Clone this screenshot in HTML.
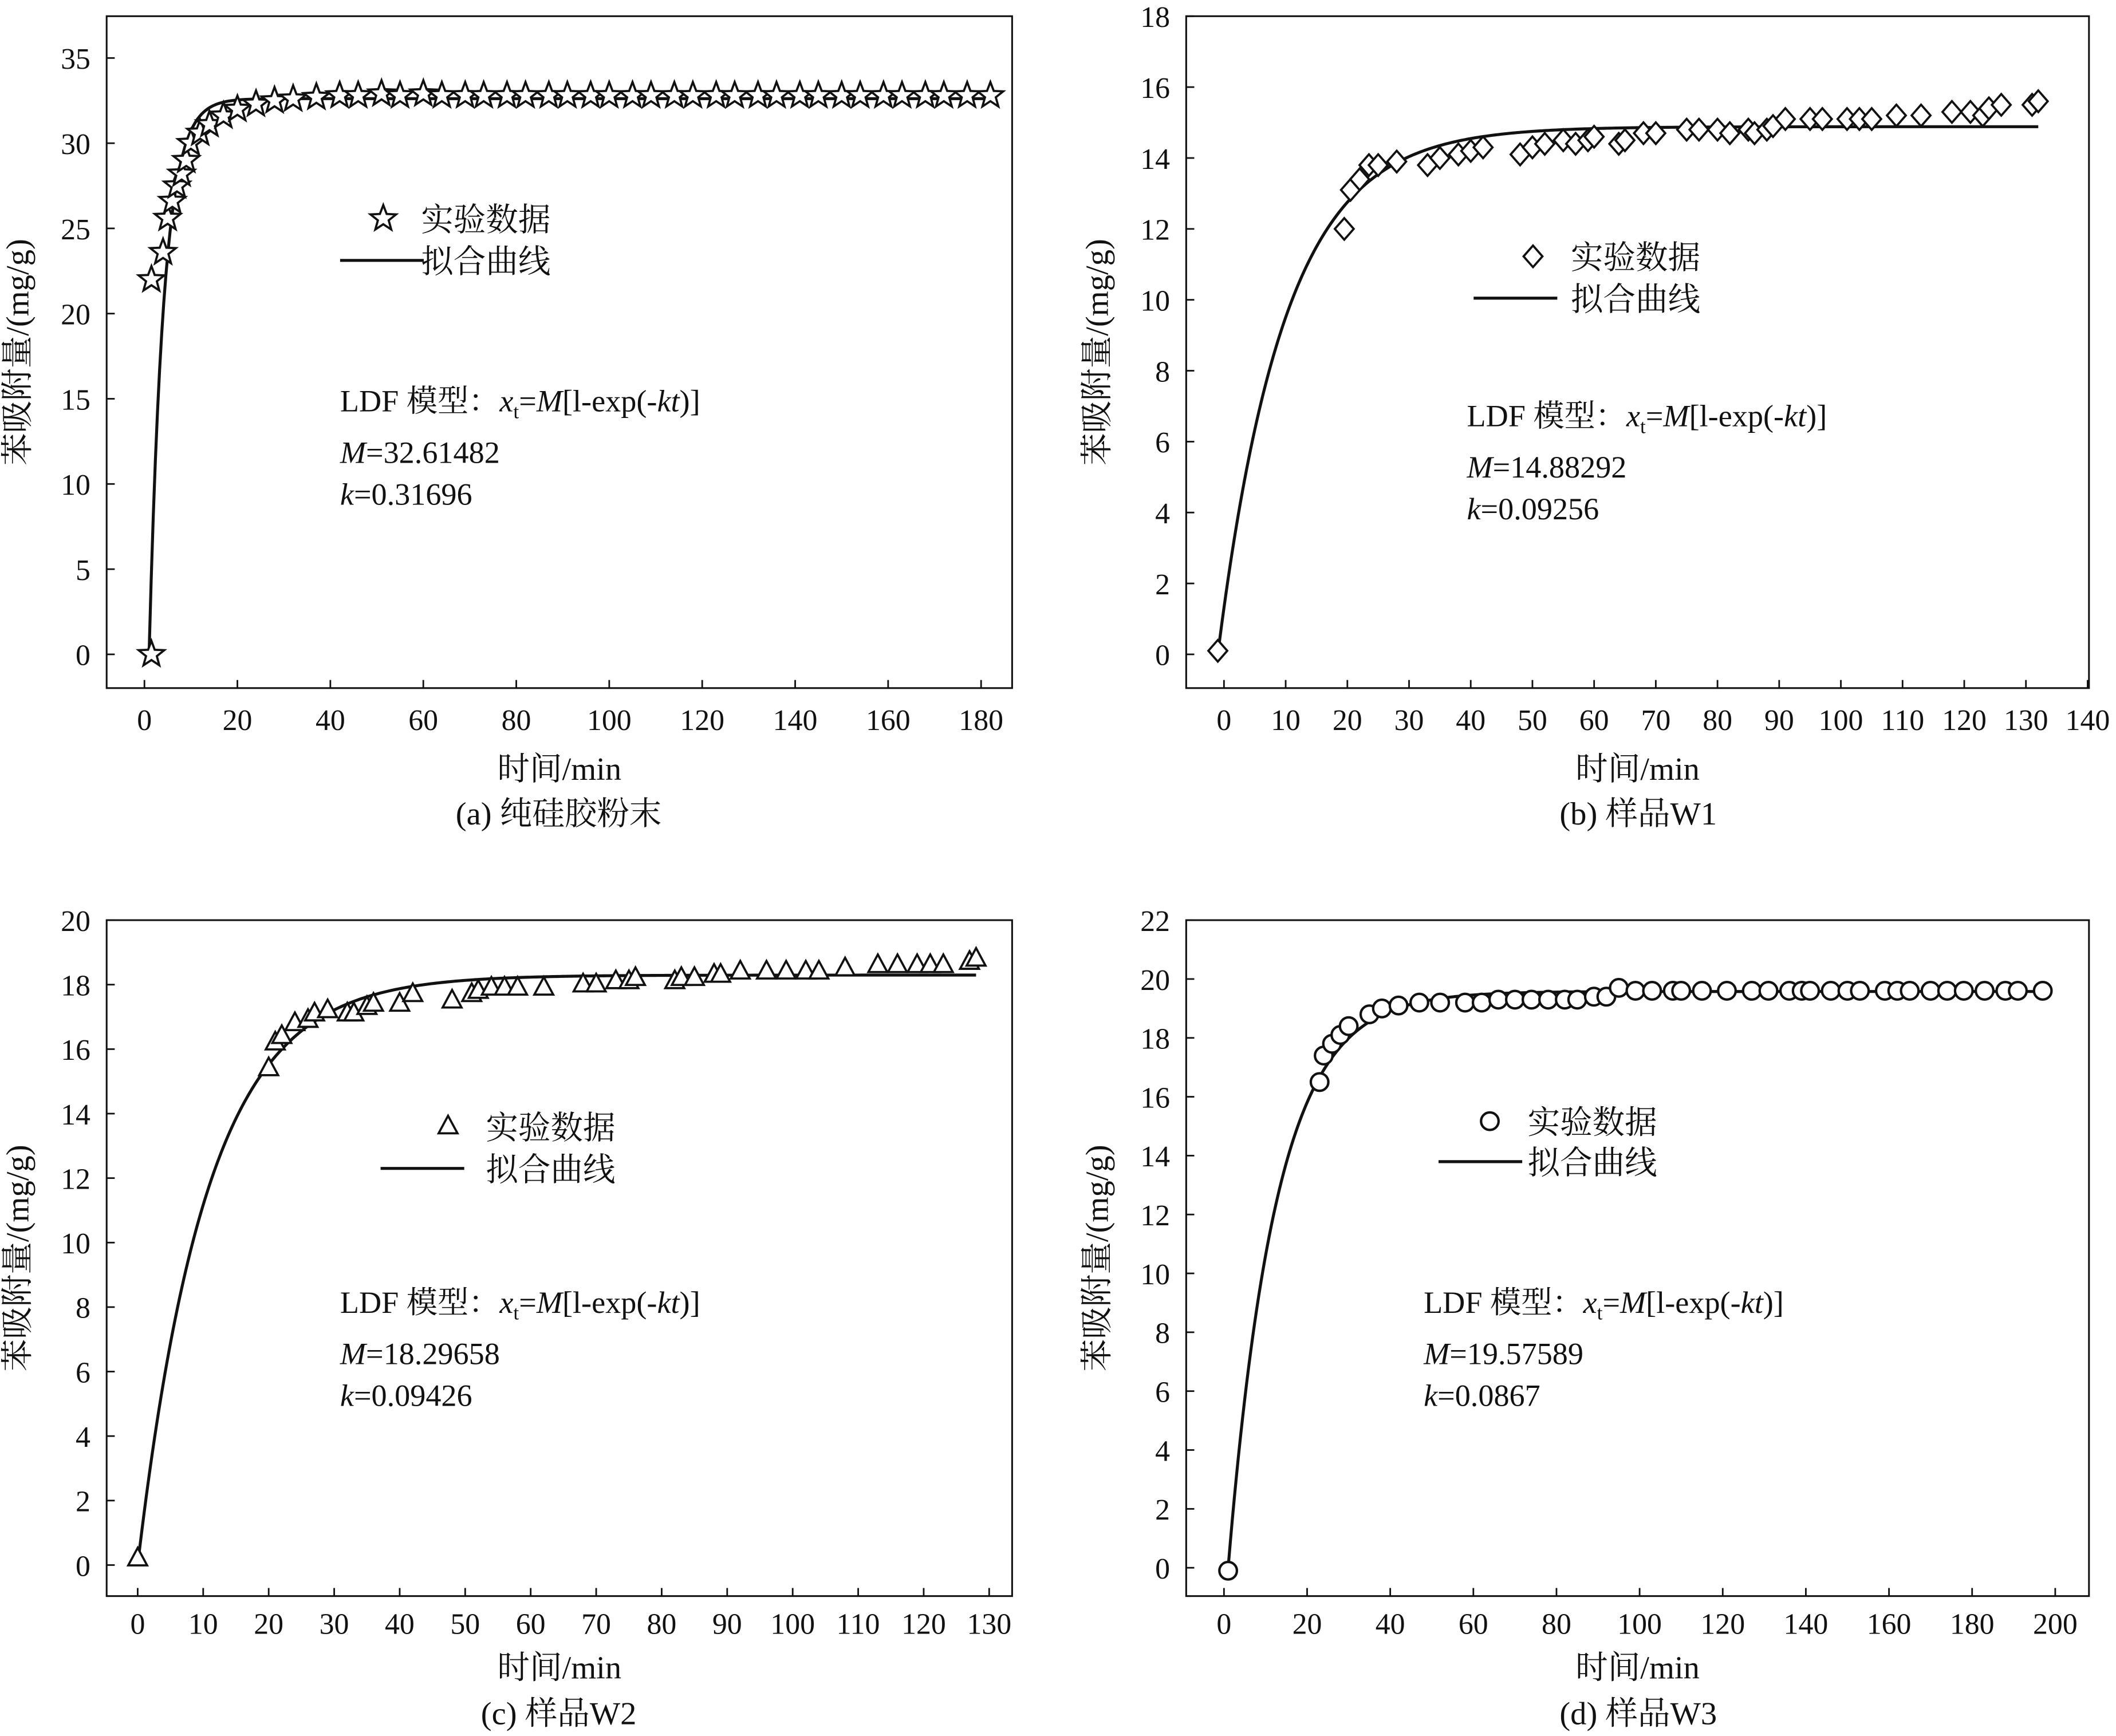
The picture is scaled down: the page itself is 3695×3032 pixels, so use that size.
<!DOCTYPE html>
<html><head><meta charset="utf-8"><style>
html,body{margin:0;padding:0;background:#fff}
svg{display:block}
text{font-family:"Liberation Serif","Noto Serif CJK SC","Noto Sans CJK SC",serif;fill:#111}
</style></head><body>
<svg id="fig" xmlns="http://www.w3.org/2000/svg" width="3695" height="3032" viewBox="0 0 1568 1286.7"></svg>
<script>
// Panel (a) data
const aT=[1.5,1.5,4,5,6,7,8,9,10,12,14,17,20,24,28,32,37,42,46,51,55,60,64,69,73,78,82,87,91,96,100,105,109,114,118,123,127,132,136,141,145,150,154,159,163,168,172,177,182];
const aY=[0,22,23.6,25.6,26.6,27.5,28.2,29,30,30.6,31.1,31.6,32,32.3,32.5,32.6,32.7,32.8,32.8,32.9,32.8,32.9,32.8,32.8,32.8,32.8,32.8,32.8,32.8,32.8,32.8,32.8,32.8,32.8,32.8,32.8,32.8,32.8,32.8,32.8,32.8,32.8,32.8,32.8,32.8,32.8,32.8,32.8,32.8];
const aXTicks=[0,20,40,60,80,100,120,140,160,180];
const aYTicks=[0,5,10,15,20,25,30,35];
// Panel (b)
const bT=[-1,19.5,20.5,22,23.5,25,28,33,35,38,40,42,48,50,52,55,57,59,60,64,65,68,70,75,77,80,82,85,86,88,89,91,95,97,101,103,105,109,113,118,121,123,124,126,131,132];
const bY=[0.1,12,13.1,13.4,13.8,13.8,13.9,13.8,14,14.1,14.2,14.3,14.1,14.3,14.4,14.5,14.4,14.5,14.6,14.4,14.5,14.7,14.7,14.8,14.8,14.8,14.7,14.8,14.7,14.8,14.9,15.1,15.1,15.1,15.1,15.1,15.1,15.2,15.2,15.3,15.3,15.2,15.4,15.5,15.5,15.6];
const bXTicks=[0,10,20,30,40,50,60,70,80,90,100,110,120,130,140];
const bYTicks=[0,2,4,6,8,10,12,14,16,18];
// Panel (c)
const cT=[0,20,21,22,24,26,27,29,32,33,35,36,40,42,48,51,52,54,56,58,62,68,70,73,75,76,82,83,85,88,89,92,96,99,102,104,108,113,116,119,121,123,127,128];
const cY=[0.2,15.4,16.2,16.4,16.8,16.9,17.1,17.2,17.1,17.1,17.3,17.4,17.4,17.7,17.5,17.7,17.8,17.9,17.9,17.9,17.9,18,18,18.1,18.1,18.2,18.1,18.2,18.2,18.3,18.3,18.4,18.4,18.4,18.4,18.4,18.5,18.6,18.6,18.6,18.6,18.6,18.7,18.8];
const cXTicks=[0,10,20,30,40,50,60,70,80,90,100,110,120,130];
const cYTicks=[0,2,4,6,8,10,12,14,16,18,20];
// Panel (d)
const dT=[1,23,24,26,28,30,35,38,42,47,52,58,62,66,70,74,78,82,85,89,92,95,99,103,108,110,115,121,127,131,136,139,141,146,150,153,159,162,165,170,174,178,183,188,191,197];
const dY=[-0.1,16.5,17.4,17.8,18.1,18.4,18.8,19,19.1,19.2,19.2,19.2,19.2,19.3,19.3,19.3,19.3,19.3,19.3,19.4,19.4,19.7,19.6,19.6,19.6,19.6,19.6,19.6,19.6,19.6,19.6,19.6,19.6,19.6,19.6,19.6,19.6,19.6,19.6,19.6,19.6,19.6,19.6,19.6,19.6,19.6];
const dXTicks=[0,20,40,60,80,100,120,140,160,180,200];
const dYTicks=[0,2,4,6,8,10,12,14,16,18,20,22];
// fit parameters
const fitM=[32.61482,14.88292,18.29658,19.57589];
const fitK=[0.31696,0.09256,0.09426,0.0867];

const NS="http://www.w3.org/2000/svg";
const svg=document.getElementById('fig');
function mk(tag,attrs,parent){const e=document.createElementNS(NS,tag);for(const k in attrs)e.setAttribute(k,attrs[k]);(parent||svg).appendChild(e);return e;}
function txt(x,y,s,size,anchor,parent){const t=mk('text',{x:x,y:y,'font-size':size,'text-anchor':anchor||'start'},parent);t.innerHTML=s;return t;}

const panels=[
 {id:'a',T:aT,Y:aY,xt:aXTicks,yt:aYTicks,box:[79,12,750,510],x0:107,x1:727,xv1:180,y0:485,y1:43,yv1:35,t0:1,tmax:182,mk:'star',
  leg:[270,162,252,193],ann:[252,305],cap:'(a) 纯硅胶粉末',capx:414,tkOff:31,xtOff:68,capOff:101},
 {id:'b',T:bT,Y:bY,xt:bXTicks,yt:bYTicks,box:[879,12,1548,510],x0:907,x1:1547,xv1:140,y0:485,y1:12,yv1:18,t0:-1,tmax:132,mk:'diamond',
  leg:[1122,190,1092,221],ann:[1087,316],cap:'(b) 样品W1',capx:1214,tkOff:31,xtOff:68,capOff:101},
 {id:'c',T:cT,Y:cY,xt:cXTicks,yt:cYTicks,box:[79,682,750,1183],x0:102,x1:733,xv1:130,y0:1160,y1:682,yv1:20,t0:0,tmax:128,mk:'tri',
  leg:[318,835,282,866],ann:[252,973],cap:'(c) 样品W2',capx:414,tkOff:28,xtOff:61,capOff:95},
 {id:'d',T:dT,Y:dY,xt:dXTicks,yt:dYTicks,box:[879,682,1548,1183],x0:907,x1:1523,xv1:200,y0:1162,y1:682,yv1:22,t0:1,tmax:198,mk:'circle',
  leg:[1090,831,1066,861],ann:[1055,973],cap:'(d) 样品W3',capx:1214,tkOff:28,xtOff:61,capOff:95}
];

function marker(type,cx,cy,g){
 let e;
 if(type==='star'){let p=[];for(let i=0;i<10;i++){const r=i%2?4.2:10;const a=-Math.PI/2+i*Math.PI/5;p.push((cx+r*Math.cos(a)).toFixed(1)+','+(cy+r*Math.sin(a)).toFixed(1));}
  e=mk('polygon',{points:p.join(' '),fill:'#fff',stroke:'#111','stroke-width':1.6},g);}
 else if(type==='diamond'){e=mk('polygon',{points:`${cx},${cy-8} ${cx+7},${cy} ${cx},${cy+8} ${cx-7},${cy}`,fill:'#fff',stroke:'#111','stroke-width':1.6},g);}
 else if(type==='tri'){e=mk('polygon',{points:`${cx},${cy-8} ${cx+7},${cy+5} ${cx-7},${cy+5}`,fill:'#fff',stroke:'#111','stroke-width':1.6},g);}
 else {e=mk('circle',{cx:cx,cy:cy,r:6.5,fill:'#fff',stroke:'#111','stroke-width':1.8},g);}
 return e;
}

panels.forEach((P,pi)=>{
 const g=mk('g',{});
 
 
 const sx=v=>P.x0+(P.x1-P.x0)*v/P.xv1;
 const sy=v=>P.y0+(P.y1-P.y0)*v/P.yv1;
 const [L,T,R,B]=P.box;
 const fr=mk('rect',{x:L,y:T,width:R-L,height:B-T,fill:'none',stroke:'#111','stroke-width':1.3},g);
 
 
 P.xt.forEach(v=>{const x=sx(v);mk('line',{x1:x,y1:B,x2:x,y2:B-6,stroke:'#111','stroke-width':1.2},g);
  const t=txt(x,B+P.tkOff,v,22,'middle',g);});
 P.yt.forEach(v=>{const y=sy(v);mk('line',{x1:L,y1:y,x2:L+6,y2:y,stroke:'#111','stroke-width':1.2},g);
  const t=txt(L-12,y+8,v,22,'end',g);});
 const xl=txt((L+R)/2,B+P.xtOff,'时间/min',24,'middle',g);
 
 const yl=txt(0,0,'苯吸附量/(mg/g)',24,'middle',g);
 yl.setAttribute('transform',`translate(${L-58},${(T+B)/2}) rotate(-90)`);
 
 const cp=txt(P.capx,B+P.capOff,P.cap,24,'middle',g);
 
 let d='';const M=fitM[pi],k=fitK[pi];
 for(let i=0;i<=400;i++){const t=P.t0+(P.tmax-P.t0)*i/400;const y=M*(1-Math.exp(-k*(t-P.t0)));d+=(i?'L':'M')+sx(t).toFixed(2)+','+sy(y).toFixed(2);}
 const cv=mk('path',{d:d,fill:'none',stroke:'#111','stroke-width':2.2},g);
 
 P.T.forEach((t,i)=>{const m=marker(P.mk,sx(t),sy(P.Y[i]),g);
  
  });
 const [mx,my,lx,ly]=P.leg;
 const lm=marker(P.mk,mx+14,my,g);
 
 const l1=txt(mx+42,my+9,'实验数据',24,'start',g);
 
 const ll=mk('line',{x1:lx,y1:ly,x2:lx+62,y2:ly,stroke:'#111','stroke-width':2.2},g);
 
 const l2=txt(mx+42,ly+9,'拟合曲线',24,'start',g);
 
 const [ax,ay]=P.ann;
 const a1=txt(ax,ay,'LDF 模型：<tspan font-style="italic">x</tspan><tspan font-size="15" dy="5">t</tspan><tspan dy="-5">=</tspan><tspan font-style="italic">M</tspan>[l-exp(-<tspan font-style="italic">kt</tspan>)]',23,'start',g);
 
 const a2=txt(ax,ay+38,'<tspan font-style="italic">M</tspan>='+fitM[pi],23,'start',g);
 
 const a3=txt(ax,ay+69,'<tspan font-style="italic">k</tspan>='+fitK[pi],23,'start',g);
 
});
</script>
</body></html>
